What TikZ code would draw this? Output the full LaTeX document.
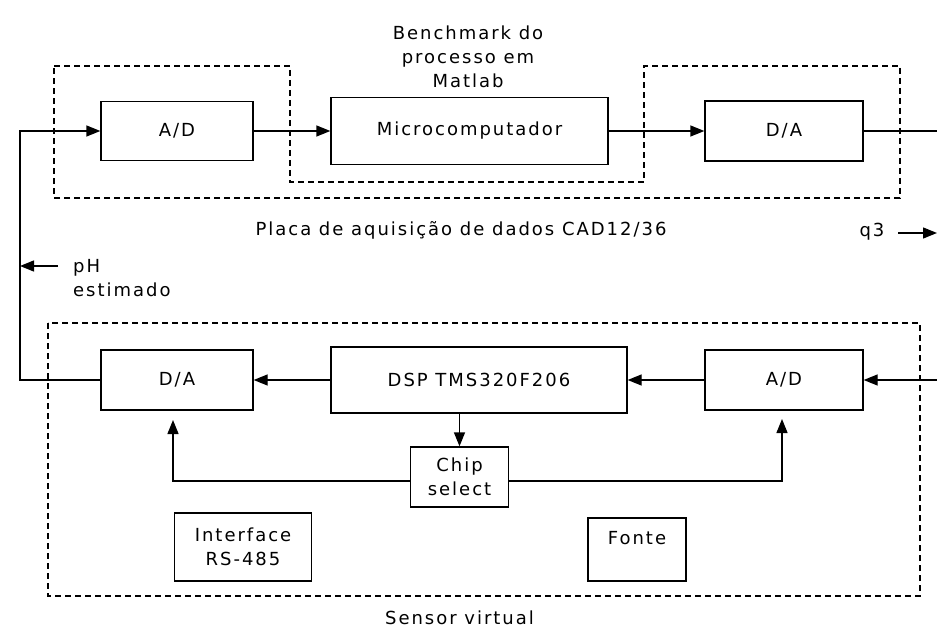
\documentclass[tikz,border=0pt]{standalone}
\usepackage{fontspec}
\setmainfont{DejaVu Sans}[LetterSpace=11]
\usetikzlibrary{arrows.meta,calc}
\begin{document}
\begin{tikzpicture}[x=1pt,y=-1pt,
  font=\fontsize{18}{24}\selectfont,
  blk/.style={draw, line width=1.3pt, inner sep=0pt, align=center},
  conn/.style={line width=1.3pt},
  arr/.style={conn, -{Triangle[length=14pt,width=11pt]}},
  frame/.style={line width=1.3pt, dash pattern=on 6pt off 4pt},
  txt/.style={inner sep=0pt, align=center}]
\useasboundingbox (0,0) rectangle (937,628);

% dashed boundaries
\draw[frame] (54,66) -- (290,66) -- (290,182) -- (644,182) -- (644,66)
  -- (900,66) -- (900,198) -- (54,198) -- cycle;
\draw[frame] (48,323) rectangle (920,596);

% top row: acquisition board
\node[blk, minimum width=152pt, minimum height=59pt] (adT) at (177,131) {A/D};
\node[blk, minimum width=277pt, minimum height=67pt] (micro) at (469.5,131) {Microcomputador};
\node[blk, minimum width=158pt, minimum height=60pt] (daT) at (784,131) {D/A};

% bottom row: virtual sensor
\node[blk, minimum width=152pt, minimum height=60pt] (daB) at (177,380) {D/A};
\node[blk, minimum width=296pt, minimum height=66pt] (dsp) at (479,380) {DSP TMS320F206};
\node[blk, minimum width=158pt, minimum height=60pt] (adB) at (784,380) {A/D};
\node[blk, minimum width=98pt, minimum height=60pt] (chip) at (459.5,477) {Chip\\select};
\node[blk, minimum width=137pt, minimum height=68pt] (iface) at (243,547) {Interface\\RS-485};
\node[blk, minimum width=98pt, minimum height=63pt] (fonte) at (637,549.5) {};
\node[txt] (fontetxt) at (637,538) {Fonte};

% labels
\node[txt] (bench) at (468,56.5) {Benchmark do\\processo em\\Matlab};
\node[txt] (placa) at (461,230) {Placa de aquisição de dados CAD12/36};
\node[txt] (q3) at (872,232) {q3};
\node[txt, align=left, anchor=west] (ph) at (73,278) {pH\\estimado};
\node[txt] (sensor) at (459.5,618) {Sensor virtual};

% free ends
\coordinate (lx) at (20,131);
\coordinate (lb) at (20,380);
\coordinate (rt) at (937,131);
\coordinate (rb) at (937,380);
\coordinate (q3s) at (898,233);
\coordinate (q3e) at (937,233);
\coordinate (phs) at (58,266);
\coordinate (phe) at (20,266);
\coordinate (cl) at (173,481);
\coordinate (clt) at (173,420);
\coordinate (cr) at (782,481);
\coordinate (crt) at (782,419);

% connectors
\draw[arr] (adT.east) -- (micro.west);
\draw[arr] (micro.east) -- (daT.west);
\draw[conn] (daT.east) -- (rt);
\draw[arr] (daB.west) -- (lb) -- (lx) -- (adT.west);
\draw[arr] (rb) -- (adB.east);
\draw[arr] (adB.west) -- (dsp.east);
\draw[arr] (dsp.west) -- (daB.east);
\draw[arr] (dsp.south -| chip.north) -- (chip.north);
\draw[arr] (chip.west |- cl) -- (cl) -- (clt);
\draw[arr] (chip.east |- cr) -- (cr) -- (crt);
\draw[arr] (q3s) -- (q3e);
\draw[arr] (phs) -- (phe);
\end{tikzpicture}
\end{document}
